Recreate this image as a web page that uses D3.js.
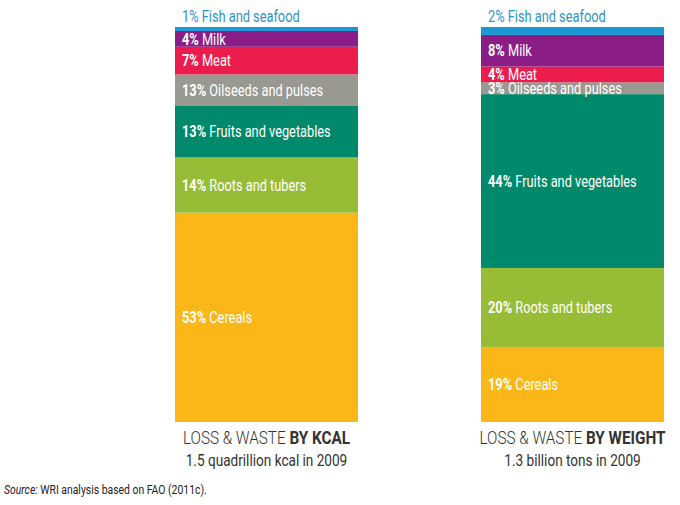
<!DOCTYPE html>
<html>
<head>
<meta charset="utf-8">
<script src="https://cdn.jsdelivr.net/npm/d3@7"></script>
<style>
  body { margin: 0; background: #fff; }
  svg text { font-family: "Roboto", "Noto Sans", sans-serif; }
</style>
</head>
<body>
<svg width="680" height="505"></svg>
<script>
// food groups, top of the bar first
let groups = ['Fish and seafood', 'Milk', 'Meat', 'Oilseeds and pulses',
              'Fruits and vegetables', 'Roots and tubers', 'Cereals'];

// bar shares as drawn (percent)
let kcalShare = [1, 4, 7, 8, 13, 14, 53];
let weightShare = [2, 8, 4, 3, 44, 20, 19];

// percent labels as printed
let kcalLabel = [1, 4, 7, 13, 13, 14, 53];
let weightLabel = [2, 8, 4, 3, 44, 20, 19];

let bars = ['kcal', 'weight'];
let titleLight = ['LOSS & WASTE ', 'LOSS & WASTE '];
let titleBold = ['BY KCAL', 'BY WEIGHT'];
let subtitles = ['1.5 quadrillion kcal in 2009', '1.3 billion tons in 2009'];

let colors = ['#1b98d3', '#8b1d87', '#ec1c4c', '#999891', '#00896a', '#97bc35', '#fbb718'];

let svg = d3.select('svg');

let x = d3.scaleBand()
          .domain(bars)
          .range([175, 664])
          .paddingInner(0.402);

let y = d3.scaleLinear()
          .domain([0, 100])
          .range([422, 27]);

let color = d3.scaleOrdinal().domain(groups).range(colors);

// the original uses a condensed face, so squeeze the text horizontally
function label(px, py, size, squeeze) {
    return svg.append('text')
              .attr('transform', `translate(${px},${py}) scale(${squeeze || 0.8},1)`)
              .attr('font-size', size);
}

// one row per bar, stacked bottom (cereals) to top (fish)
let rows = bars.map((b, i) => {
    let row = {bar: b};
    groups.forEach((g, j) => {
        row[g] = (i === 0 ? kcalShare : weightShare)[j];
        row[g + '_lab'] = (i === 0 ? kcalLabel : weightLabel)[j];
    });
    return row;
});

let stack = d3.stack().keys(groups.slice().reverse());
let series = stack(rows);

let layers = svg.selectAll('g.layer')
                .data(series)
                .enter()
                .append('g')
                .attr('class', 'layer')
                .attr('fill', d => color(d.key));

layers.selectAll('rect')
      .data(d => d)
      .enter()
      .append('rect')
      .attr('x', d => x(d.data.bar))
      .attr('y', d => y(d[1]))
      .attr('width', x.bandwidth())
      .attr('height', d => y(d[0]) - y(d[1]));

// segment labels
series.forEach(s => {
    s.forEach(d => {
        let isFish = s.key === 'Fish and seafood';
        let cy = isFish ? 16 : (y(d[0]) + y(d[1])) / 2;
        let t = label(x(d.data.bar) + 7, cy, 16)
                   .attr('dy', '0.36em')
                   .attr('fill', isFish ? '#2a94cc' : '#fff');
        t.append('tspan')
         .attr('font-weight', isFish ? 'normal' : 'bold')
         .text(d.data[s.key + '_lab'] + '% ');
        t.append('tspan').text(s.key);
    });
});

// titles under the bars
bars.forEach((b, i) => {
    let cx = x(b) + x.bandwidth() / 2;
    let t = label(cx, 444, 18, 0.85)
               .attr('text-anchor', 'middle')
               .attr('fill', '#333');
    t.append('tspan').attr('font-weight', 300).text(titleLight[i]);
    t.append('tspan').attr('font-weight', 'bold').text(titleBold[i]);

    label(cx, 466, 16, 0.85)
       .attr('text-anchor', 'middle')
       .attr('fill', '#333')
       .text(subtitles[i]);
});

let src = label(4, 494, 13).attr('fill', '#222');
src.append('tspan').attr('font-style', 'italic').text('Source: ');
src.append('tspan').text('WRI analysis based on FAO (2011c).');
</script>
</body>
</html>
